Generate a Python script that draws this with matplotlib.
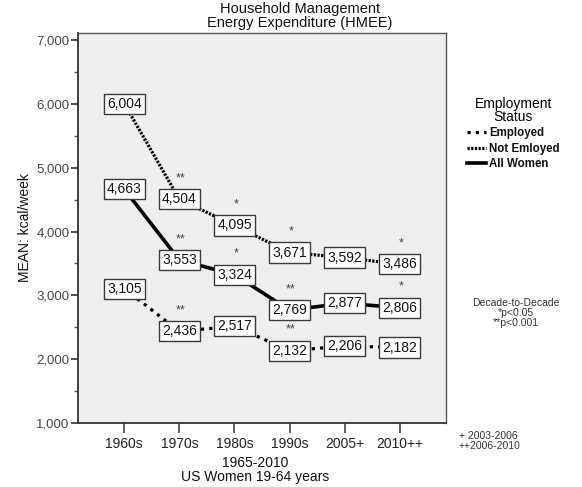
import matplotlib
matplotlib.use("Agg")
import matplotlib.pyplot as plt
from matplotlib.lines import Line2D
from matplotlib.ticker import FuncFormatter, MultipleLocator

plt.rcParams['font.family'] = ['Liberation Sans', 'DejaVu Sans']

decades = ["1960s", "1970s", "1980s", "1990s", "2005+", "2010++"]
employed = [3105, 2436, 2517, 2132, 2206, 2182]
not_employed = [6004, 4504, 4095, 3671, 3592, 3486]
all_women = [4663, 3553, 3324, 2769, 2877, 2806]
employed_sig = ["", "**", "", "**", "", ""]
not_employed_sig = ["", "**", "*", "*", "", "*"]
all_women_sig = ["", "**", "*", "**", "", "*"]

fig = plt.figure(figsize=(5.82, 4.87), dpi=100)
ax = fig.add_axes([78/582, 1-423/487, (446-78)/582, (423-33)/487])
ax.set_facecolor("#efefef")

x = list(range(len(decades)))
ax.plot(x, employed, color="black", lw=2.3, linestyle=(0, (1.0, 1.6)), zorder=2)
ax.plot(x, not_employed, color="black", lw=2.3, linestyle=(0, (0.7, 0.45)), zorder=2)
ax.plot(x, all_women, color="black", lw=2.6, linestyle="-", zorder=2)

for series, sig in [(employed, employed_sig), (not_employed, not_employed_sig), (all_women, all_women_sig)]:
    for xi, v, s in zip(x, series, sig):
        ax.text(xi, v, f"{v:,}", ha="center", va="center", fontsize=10, color="#111111",
                zorder=4,
                bbox=dict(boxstyle="square,pad=0.22", facecolor="white", edgecolor="#3a3a3a", lw=1.0))
        if s:
            ax.annotate(s, (xi, v), xytext=(1, 15), textcoords="offset points",
                        ha="center", va="center", fontsize=9, color="#444444", zorder=5)

ax.set_xlim(-0.84, 5.84)
ax.set_ylim(1000, 7110)
ax.set_xticks(x)
ax.set_xticklabels(decades, fontsize=10, color="#222222")
ax.yaxis.set_major_locator(MultipleLocator(1000))
ax.yaxis.set_minor_locator(MultipleLocator(500))
ax.yaxis.set_major_formatter(FuncFormatter(lambda v, p: f"{int(v):,}"))
ax.tick_params(axis="y", labelsize=9.5, labelcolor="#444444", length=5, width=1.2, color="#333333", pad=1)
ax.tick_params(axis="y", which="minor", length=3, width=1, color="#555555")
ax.tick_params(axis="x", length=7, width=1.2, color="#444444", pad=3)
for sp in ax.spines.values():
    sp.set_color("#555555")
    sp.set_linewidth(1.0)
ax.spines["left"].set_color("#333333")
ax.spines["bottom"].set_color("#333333")
ax.spines["left"].set_linewidth(1.3)
ax.spines["bottom"].set_linewidth(1.3)

fig.text(300/582, 1-16/487, "Household Management\nEnergy Expenditure (HMEE)",
         ha="center", va="center", fontsize=10.5, linespacing=0.95, color="#111111")
fig.text(255/582, 1-470/487, "1965-2010\nUS Women 19-64 years",
         ha="center", va="center", fontsize=10, linespacing=0.95, color="#111111")
fig.text(25/582, 1-228/487, "MEAN: kcal/week", rotation=90,
         ha="center", va="center", fontsize=10, color="#111111")

handles = [
    Line2D([], [], color="black", lw=2.3, linestyle=(0, (1.0, 1.6))),
    Line2D([], [], color="black", lw=2.3, linestyle=(0, (0.7, 0.45))),
    Line2D([], [], color="black", lw=2.6, linestyle="-"),
]
leg = fig.legend(handles, ["Employed", "Not Emloyed", "All Women"],
                 loc="upper left", bbox_to_anchor=(459/582, 1-89/487),
                 frameon=False, handlelength=1.6, handletextpad=0.3,
                 labelspacing=0.3, borderpad=0.2,
                 title="Employment\nStatus", title_fontproperties={"size": 10},
                 prop={"size": 8.3, "weight": "bold"})
leg.get_title().set_multialignment("center")
leg.get_title().set_linespacing(0.9)
for t in leg.get_texts():
    t.set_color("#111111")

fig.text(516/582, 1-313/487, "Decade-to-Decade\n*p<0.05\n**p<0.001",
         ha="center", va="center", fontsize=7.5, linespacing=1.0, color="#333333")
fig.text(459/582, 1-441/487, "+ 2003-2006\n++2006-2010",
         ha="left", va="center", fontsize=7.5, linespacing=1.0, color="#333333")

fig.savefig("out.png", dpi=100)
